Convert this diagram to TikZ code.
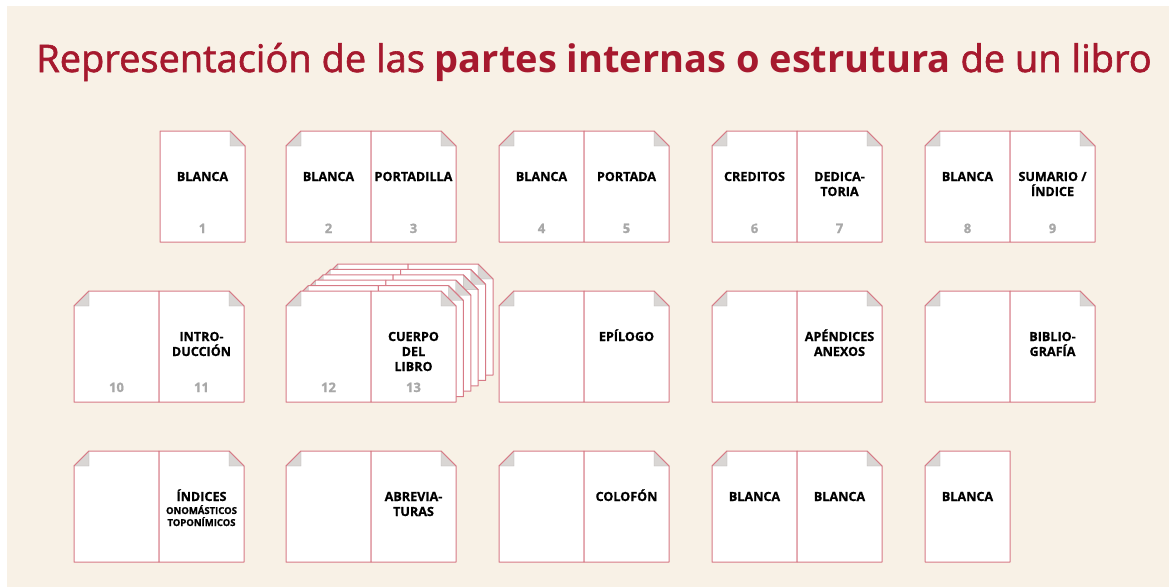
\documentclass[tikz,border=0pt]{standalone}
\usepackage{fontspec}
\setmainfont{Open Sans}
\newfontfamily\titlefont[FakeBold=1.6]{Open Sans}
\newfontfamily\titlebold{Open Sans Bold}
\newfontfamily\labelfont[FakeBold=0.9]{Open Sans Bold}
\usetikzlibrary{positioning}
\definecolor{cream}{HTML}{F8F1E6}
\definecolor{bookred}{HTML}{A6192E}
\definecolor{edgered}{HTML}{D77A86}
\definecolor{foldgray}{HTML}{D9D6D4}
\definecolor{numgray}{HTML}{A8A8A8}
\tikzstyle{leaf} = [draw=edgered, fill=white, line width=1pt, line join=round]
\tikzstyle{fold} = [fill=foldgray, draw=foldgray!85!black, very thin]
\tikzstyle{pagetext} = [font=\labelfont\fontsize{12.6}{15}\selectfont, align=center, anchor=base, inner sep=0]
\tikzstyle{pagenum} = [font=\labelfont\fontsize{13}{13}\selectfont, text=numgray, anchor=base, inner sep=0]

% right-hand page, fold at the top right corner
\newcommand{\rpage}[2]{%
  \draw[leaf] (#1,#2) -- ++(70,0) -- ++(15,15) -- ++(0,96) -- ++(-85,0) -- cycle;
  \filldraw[fold] (#1+70,#2) -- ++(0,15) -- ++(15,0) -- cycle;
  \draw[edgered, line width=1pt] (#1+70,#2) -- ++(15,15);}
% left-hand page, fold at the top left corner
\newcommand{\lpage}[2]{%
  \draw[leaf] (#1+15,#2) -- ++(70,0) -- ++(0,111) -- ++(-85,0) -- ++(0,-96) -- cycle;
  \filldraw[fold] (#1+15,#2) -- ++(0,15) -- ++(-15,0) -- cycle;
  \draw[edgered, line width=1pt] (#1+15,#2) -- ++(-15,15);}
% two facing pages
\newcommand{\spread}[2]{\lpage{#1}{#2}\rpage{#1+85}{#2}}

\begin{document}
\begin{tikzpicture}[x=1pt,y=-1pt]
  \path[use as bounding box, fill=white] (0,0) rectangle (1169,587);
  \fill[cream] (7,6) rectangle (1169,587);

  % title
  \node (title) [anchor=base, text=bookred, font=\titlefont\fontsize{38}{40}\selectfont]
    at (594,72) {Representación de las {\titlebold partes internas o estrutura} de un libro};

  % first row
  \def \ra {131}
  \rpage{160}{\ra}
  \spread{286}{\ra}
  \spread{499}{\ra}
  \spread{712}{\ra}
  \spread{925}{\ra}
  % (multi-line texts sit on their last line)
  \node[pagetext] (t1) at (202.5,\ra+50) {BLANCA};
  \node[pagetext] (t2) at (328.5,\ra+50) {BLANCA};
  \node[pagetext] (t3) at (413.5,\ra+50) {PORTADILLA};
  \node[pagetext] (t4) at (541.5,\ra+50) {BLANCA};
  \node[pagetext] (t5) at (626.5,\ra+50) {PORTADA};
  \node[pagetext] (t6) at (754.5,\ra+50) {CREDITOS};
  \node[pagetext] (t7) at (839.5,\ra+65) {DEDICA-\\TORIA};
  \node[pagetext] (t8) at (967.5,\ra+50) {BLANCA};
  \node[pagetext] (t9) at (1052.5,\ra+65) {SUMARIO /\\ÍNDICE};
  \node[pagenum] (n1) at (202.5,\ra+102) {1};
  \node[pagenum] (n2) at (328.5,\ra+102) {2};
  \node[pagenum] (n3) at (413.5,\ra+102) {3};
  \node[pagenum] (n4) at (541.5,\ra+102) {4};
  \node[pagenum] (n5) at (626.5,\ra+102) {5};
  \node[pagenum] (n6) at (754.5,\ra+102) {6};
  \node[pagenum] (n7) at (839.5,\ra+102) {7};
  \node[pagenum] (n8) at (967.5,\ra+102) {8};
  \node[pagenum] (n9) at (1052.5,\ra+102) {9};

  % second row
  \def \rb {291}
  \spread{74}{\rb}
  \foreach \k in {5,...,1}
    \spread{286+7.4*\k}{\rb-5.4*\k};
  \spread{286}{\rb}
  \spread{499}{\rb}
  \spread{712}{\rb}
  \spread{925}{\rb}
  \node[pagetext] (t11) at (201.5,\rb+65) {INTRO-\\DUCCIÓN};
  \node[pagetext] (t13) at (413.5,\rb+80) {CUERPO\\DEL\\LIBRO};
  \node[pagetext] (tepi) at (626.5,\rb+50) {EPÍLOGO};
  \node[pagetext] (tape) at (839.5,\rb+65) {APÉNDICES\\ANEXOS};
  \node[pagetext] (tbib) at (1052.5,\rb+65) {BIBLIO-\\GRAFÍA};
  \node[pagenum] (n10) at (116.5,\rb+101) {10};
  \node[pagenum] (n11) at (201.5,\rb+101) {11};
  \node[pagenum] (n12) at (328.5,\rb+101) {12};
  \node[pagenum] (n13) at (413.5,\rb+101) {13};

  % third row
  \def \rc {451}
  \spread{74}{\rc}
  \spread{286}{\rc}
  \spread{499}{\rc}
  \spread{712}{\rc}
  \lpage{925}{\rc}
  \node[pagetext] (tind) at (201.5,\rc+50) {ÍNDICES};
  \node[pagetext, font=\labelfont\fontsize{9.5}{12}\selectfont] (tsub) at (201.5,\rc+75) {ONOMÁSTICOS\\TOPONÍMICOS};
  \node[pagetext] (tabr) at (413.5,\rc+65) {ABREVIA-\\TURAS};
  \node[pagetext] (tcol) at (626.5,\rc+50) {COLOFÓN};
  \node[pagetext] (tbl1) at (754.5,\rc+50) {BLANCA};
  \node[pagetext] (tbl2) at (839.5,\rc+50) {BLANCA};
  \node[pagetext] (tbl3) at (967.5,\rc+50) {BLANCA};
\end{tikzpicture}
\end{document}
